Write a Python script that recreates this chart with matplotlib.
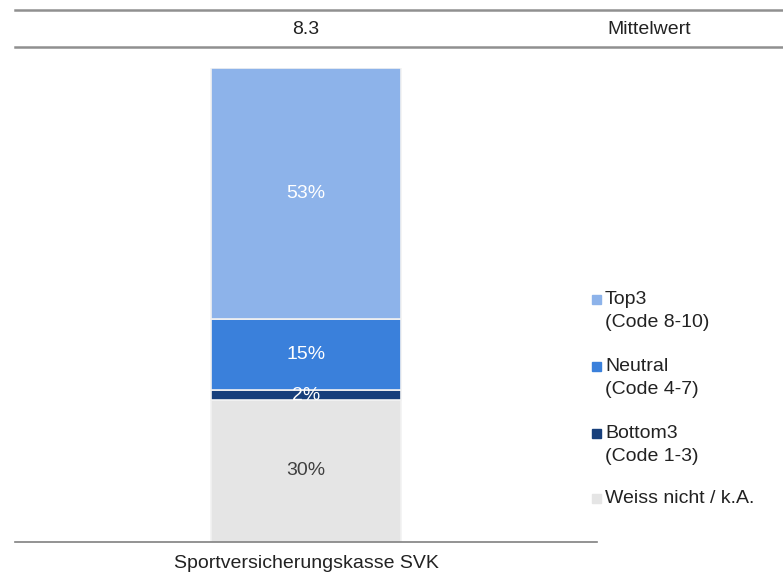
import matplotlib.pyplot as plt
from matplotlib.patches import Rectangle
from matplotlib.lines import Line2D

plt.rcParams['font.family'] = ['Liberation Sans', 'DejaVu Sans']

# Data
category = "Sportversicherungskasse SVK"
mean_value = "8.3"
series = ["Top3\n(Code 8-10)", "Neutral\n(Code 4-7)", "Bottom3\n(Code 1-3)", "Weiss nicht / k.A."]
values = [53, 15, 2, 30]
labels = ["53%", "15%", "2%", "30%"]
colors = ["#8DB3EA", "#3A80DB", "#173F7B", "#E5E5E5"]
text_colors = ["white", "white", "white", "#404040"]

W, H = 783, 574
FS = 14
fig = plt.figure(figsize=(W / 100, H / 100), dpi=100)

# axes in pixel coordinates
left, right, top, bottom = 15, 597, 68, 542
ax = fig.add_axes([left / W, 1 - bottom / H, (right - left) / W, (bottom - top) / H])

# stacked bar, drawn from bottom (Weiss) up to Top3
base = 0
for name, v, c, lab, tc in reversed(list(zip(series, values, colors, labels, text_colors))):
    ax.bar(0, v, bottom=base, width=0.328, color=c, edgecolor="#F2F2F2", linewidth=1.2)
    ax.text(0, base + v / 2, lab, ha="center", va="center", color=tc, fontsize=FS)
    base += v

ax.set_xlim(-0.5, 0.5)
ax.set_ylim(0, 100)
for s in ["top", "left", "right"]:
    ax.spines[s].set_visible(False)
ax.spines["bottom"].set_color("#808080")
ax.spines["bottom"].set_linewidth(1.2)
ax.set_yticks([])
ax.set_xticks([0])
ax.set_xticklabels([category], fontsize=FS, color="#222222")
ax.tick_params(axis="x", length=0, pad=9)

# header lines with mean value
for y in (10, 47):
    fig.add_artist(Line2D([left / W, 1], [1 - y / H, 1 - y / H], color="#909090", linewidth=1.8))
fig.text(306 / W, 1 - 30 / H, mean_value, ha="center", va="center", fontsize=FS, color="#222222")
fig.text(649 / W, 1 - 30 / H, "Mittelwert", ha="center", va="center", fontsize=FS, color="#222222")

# legend
leg_y = [300, 367, 434, 499]
for name, c, y in zip(series, colors, leg_y):
    fig.add_artist(Rectangle((592 / W, 1 - (y + 4) / H), 9 / W, 9 / H, color=c, transform=fig.transFigure))
    fig.text(605 / W, 1 - (y - 9) / H, name, ha="left", va="top", fontsize=FS,
             color="#222222", linespacing=1.45)

fig.savefig("out.png", dpi=100)
